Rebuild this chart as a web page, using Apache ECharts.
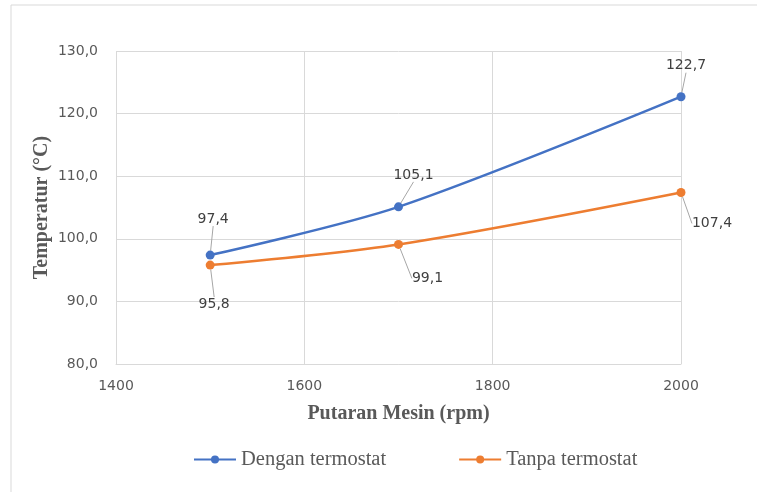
<!DOCTYPE html>
<html>
<head>
<meta charset="utf-8">
<script src="https://cdn.jsdelivr.net/npm/echarts@6/dist/echarts.min.js"></script>
<style>
  html, body { margin: 0; padding: 0; background: #fff; }
  #chart { width: 757px; height: 492px; }
</style>
</head>
<body>
<div id="chart"></div>
<script>
'use strict';

// data
var rpm = [1500, 1700, 2000];
var withThermostat = [97.4, 105.1, 122.7];
var withoutThermostat = [95.8, 99.1, 107.4];
var seriesNames = ['Dengan termostat', 'Tanpa termostat'];

// label offsets (label centre relative to the point)
var labelOffsets = [
	[[3, -36], [15, -32], [5, -31]],
	[[4, 39], [29, 34], [31, 31]]
];

function fmt(v) {
	return v.toFixed(1).replace('.', ',');
}

function pairs(xs, ys) {
	var out = [];
	for (var i = 0; i < xs.length; i++) out.push([xs[i], ys[i]]);
	return out;
}

var gray = '#595959';

var myChart = echarts.init(document.getElementById('chart'));
var option = {
	animation: false,
	grid: { left: 116, right: 76, top: 51, bottom: 128 },
	graphic: [
		{ type: 'line', shape: { x1: 11, y1: 5, x2: 757, y2: 5 }, style: { stroke: '#d9d9d9', lineWidth: 1 } },
		{ type: 'line', shape: { x1: 11, y1: 5, x2: 11, y2: 492 }, style: { stroke: '#d9d9d9', lineWidth: 1 } }
	],
	legend: {
		bottom: 17,
		left: 188,
		itemGap: 72,
		itemWidth: 42,
		itemHeight: 10,
		textStyle: { fontFamily: 'Liberation Serif', fontSize: 20.5, color: gray },
		data: seriesNames
	},
	xAxis: {
		type: 'value',
		min: 1400,
		max: 2000,
		interval: 200,
		name: 'Putaran Mesin (rpm)',
		nameLocation: 'middle',
		nameGap: 40,
		nameTextStyle: { fontFamily: 'Liberation Serif', fontWeight: 'bold', fontSize: 20, color: gray },
		axisLine: { lineStyle: { color: '#d9d9d9' } },
		axisTick: { show: false },
		axisLabel: { color: gray, fontFamily: 'DejaVu Sans', fontSize: 14, margin: 15, formatter: function(v) { return String(v); } },
		splitLine: { lineStyle: { color: '#d9d9d9' } }
	},
	yAxis: {
		type: 'value',
		min: 80,
		max: 130,
		interval: 10,
		name: 'Temperatur (\u00B0C)',
		nameLocation: 'middle',
		nameGap: 64,
		nameMoveOverlap: false,
		nameTextStyle: { fontFamily: 'Liberation Serif', fontWeight: 'bold', fontSize: 20, color: gray },
		axisLine: { show: false },
		axisTick: { show: false },
		axisLabel: { color: gray, fontFamily: 'DejaVu Sans', fontSize: 14, margin: 18, formatter: fmt },
		splitLine: { lineStyle: { color: '#d9d9d9' } }
	},
	series: [withThermostat, withoutThermostat].map(function(vals, s) {
		var color = s === 0 ? '#4472C4' : '#ED7D31';
		return {
			name: seriesNames[s],
			type: 'line',
			smooth: 0.3,
			symbol: 'circle',
			symbolSize: 9,
			color: color,
			lineStyle: { width: 2.5, color: color },
			itemStyle: { color: color },
			data: pairs(rpm, vals),
			label: {
				show: true,
				position: 'inside',
				color: '#404040',
				fontFamily: 'DejaVu Sans',
				fontSize: 14,
				formatter: function(p) { return fmt(p.value[1]); }
			},
			labelLine: {
				show: true,
				lineStyle: { color: '#a6a6a6', width: 1 }
			},
			labelLayout: function(params) {
				var off = labelOffsets[s][params.dataIndex];
				return { dx: off[0], dy: off[1] };
			}
		};
	})
};
myChart.setOption(option);
</script>
</body>
</html>
